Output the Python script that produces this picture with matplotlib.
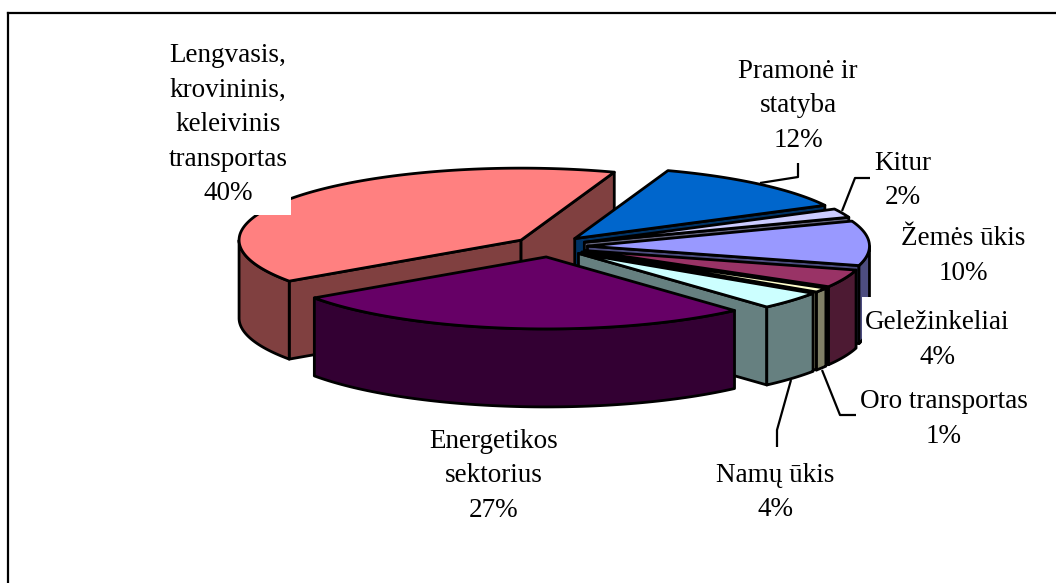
import numpy as np
import matplotlib
matplotlib.use("Agg")
import matplotlib.pyplot as plt
from matplotlib.patches import Polygon, Rectangle

categories = [["Lengvasis,", "krovininis,", "keleivinis", "transportas"],
              ["Pramonė ir", "statyba"], ["Kitur"], ["Žemės ūkis"],
              ["Geležinkeliai"], ["Oro transportas"], ["Namų ūkis"],
              ["Energetikos", "sektorius"]]
shares = [40, 12, 2, 10, 4, 1, 4, 27]
top_colors = ["#FF8080", "#0066CC", "#CCCCFF", "#9999FF", "#993366", "#FFFFCC", "#CCFFFF", "#660066"]
side_colors = ["#804040", "#003366", "#666680", "#4D4D80", "#4D1A33", "#808066", "#668080", "#330033"]

# label centre x, first-line baseline y (pixels)
label_pos = [(228, 62), (798, 78), (903, 170), (963, 245), (937, 329), (944, 408.5), (775.5, 482), (494, 448)]

W, H = 1056, 583
fig = plt.figure(figsize=(W / 100, H / 100), dpi=100)
ax = fig.add_axes([0, 0, 1, 1])
ax.set_xlim(0, W)
ax.set_ylim(H, 0)
ax.axis("off")

CX, CY, A, B, DEPTH = 550.5, 246.5, 282.0, 72.0, 78.0
EX, EY = 37.0, 10.5
START = 214.7
LW = 2.0


def pts(ox, oy, t):
    t = np.radians(t)
    return np.column_stack([ox + A * np.cos(t), oy - B * np.sin(t)])


def face(xy, color, z):
    ax.add_patch(Polygon(xy, closed=True, facecolor=color, edgecolor="black", lw=LW,
                         joinstyle="round", zorder=z))


fr = np.array(shares, float) / sum(shares)
t_hi = START
z = 2
for share, top, side in zip(fr, top_colors, side_colors):
    t_lo = t_hi - 360 * share
    mid = np.radians((t_hi + t_lo) / 2)
    ox, oy = CX + EX * np.cos(mid), CY - EY * np.sin(mid)
    apex = np.array([[ox, oy]])
    down = np.array([0, DEPTH])
    # radial side faces
    for t, visible in ((t_hi, np.cos(np.radians(t_hi)) < 0), (t_lo, np.cos(np.radians(t_lo)) > 0)):
        if visible:
            e = pts(ox, oy, np.array([t]))
            face(np.vstack([apex, e, e + down, apex + down]), side, z)
            z += 1
    # outer rim: the portion facing the viewer
    for k in (-1, 0):
        a0, a1 = max(t_lo, 180 + 360 * k), min(t_hi, 360 + 360 * k)
        if a1 > a0:
            arc = pts(ox, oy, np.linspace(a0, a1, 80))
            face(np.vstack([arc, arc[::-1] + down]), side, z)
            z += 1
    arc = pts(ox, oy, np.linspace(t_hi, t_lo, 160))
    face(np.vstack([apex, arc]), top, z)
    z += 1
    t_hi = t_lo

# white label backgrounds that cover part of the pie
ax.add_patch(Rectangle((160, 30), 131, 185, fc="white", ec="none", zorder=100))
ax.add_patch(Rectangle((862, 297), 180, 80, fc="white", ec="none", zorder=100))

# leader lines
leaders = [([760, 798, 798], [183, 177, 163]),
           ([842, 855, 870], [211, 178, 178]),
           ([791, 777, 777], [380, 430, 447]),
           ([822, 840, 856], [370, 415, 415])]
for lx, ly in leaders:
    ax.plot(lx, ly, color="black", lw=1.6, zorder=90, solid_capstyle="butt")

# labels
for cat, share, (x, y) in zip(categories, shares, label_pos):
    for i, line in enumerate(cat + [f"{share}%"]):
        ax.text(x, y + i * 34.5, line, family="Liberation Serif", fontsize=19.5,
                ha="center", va="baseline", color="black", zorder=110)

# frame
ax.plot([8, 8], [583, 13], color="black", lw=1.6, zorder=120)
ax.plot([8, 1056], [13, 13], color="black", lw=1.6, zorder=120)

fig.savefig("out.png", dpi=100)
